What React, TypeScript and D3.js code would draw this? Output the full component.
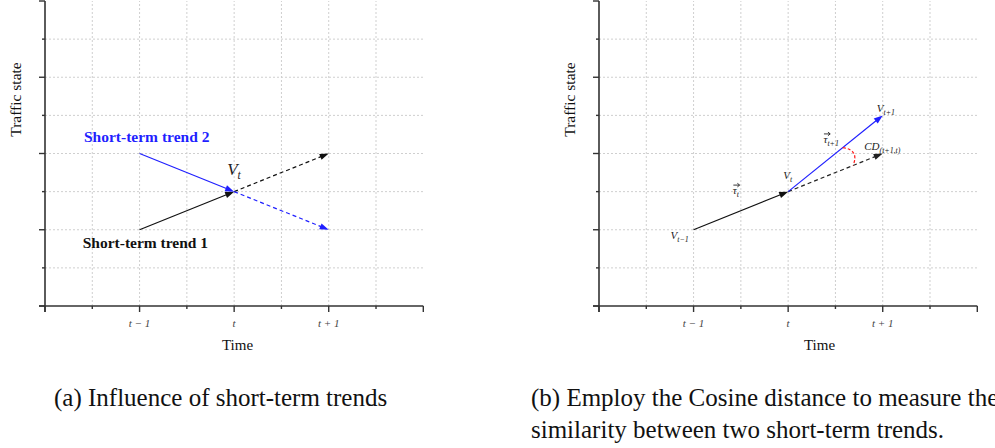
import React from "react";
import * as d3 from "d3";

const W = 995;
const H = 448;

// Axes: abstract time / traffic-state units
const xDomain: [number, number] = [0, 8];
const yDomain: [number, number] = [0, 8];
const majorTicks = [0, 2, 4, 6, 8];
const minorTicks = [1, 3, 5, 7];
const gridTicks = [1, 2, 3, 4, 5, 6, 7];
const timeTickValues = [2, 4, 6];
const timeTickLabels = ["t − 1", "t", "t + 1"];

// Panel (a): two short-term trends meeting at V_t
const trend1Solid: [number, number][] = [[2, 2], [4, 3]];
const trend1Dashed: [number, number][] = [[4, 3], [6, 4]];
const trend2Solid: [number, number][] = [[2, 4], [4, 3]];
const trend2Dashed: [number, number][] = [[4, 3], [6, 2]];

// Panel (b): cosine distance between consecutive trends
const pastTrend: [number, number][] = [[2, 2], [4, 3]];
const actualTrend: [number, number][] = [[4, 3], [6, 5]];
const expectedTrend: [number, number][] = [[4, 3], [6, 4]];

const captionA = "(a) Influence of short-term trends";
const captionB1 = "(b) Employ the Cosine distance to measure the";
const captionB2 = "similarity between two short-term trends.";

const SERIF = "'Liberation Serif', 'Times New Roman', serif";
const BLUE = "#1f1fff";
const AXIS = "#333";

type Sc = d3.ScaleLinear<number, number>;

function Arrow({ pts, x, y, color, dashed }: { pts: [number, number][]; x: Sc; y: Sc; color: string; dashed?: boolean }) {
  const [a, b] = pts;
  const x0 = x(a[0]), y0 = y(a[1]), x1 = x(b[0]), y1 = y(b[1]);
  const dx = x1 - x0, dy = y1 - y0;
  const len = Math.hypot(dx, dy);
  const ux = dx / len, uy = dy / len;
  const L = 9, hw = 3.2;
  const bx = x1 - ux * L, by = y1 - uy * L;
  const head = `${x1},${y1} ${bx - uy * hw},${by + ux * hw} ${bx + uy * hw},${by - ux * hw}`;
  return (
    <g>
      <line x1={x0} y1={y0} x2={bx + ux * 2} y2={by + uy * 2} stroke={color} strokeWidth={1.2} strokeDasharray={dashed ? "4,3" : undefined} />
      <polygon points={head} fill={color} />
    </g>
  );
}

function Frame({ x, y, titleX }: { x: Sc; y: Sc; titleX: number }) {
  const [xl, xr] = x.range();
  const [yb, yt] = y.range();
  return (
    <g>
      {gridTicks.map((t) => (
        <line key={"gx" + t} x1={x(t)} x2={x(t)} y1={yb} y2={yt} stroke="#cfcfcf" strokeWidth={1} strokeDasharray="2,2" />
      ))}
      {gridTicks.map((t) => (
        <line key={"gy" + t} x1={xl} x2={xr} y1={y(t)} y2={y(t)} stroke="#cfcfcf" strokeWidth={1} strokeDasharray="2,2" />
      ))}
      <line x1={xl - 6} x2={xr} y1={yb} y2={yb} stroke={AXIS} strokeWidth={1.6} />
      <line x1={xl} x2={xl} y1={yb + 6} y2={yt} stroke={AXIS} strokeWidth={1.6} />
      {majorTicks.map((t) => (
        <g key={"mj" + t}>
          <line x1={x(t)} x2={x(t)} y1={yb} y2={yb + 6} stroke={AXIS} strokeWidth={1.4} />
          <line x1={xl - 6} x2={xl} y1={y(t)} y2={y(t)} stroke={AXIS} strokeWidth={1.4} />
        </g>
      ))}
      {minorTicks.map((t) => (
        <g key={"mn" + t}>
          <line x1={x(t)} x2={x(t)} y1={yb} y2={yb + 3} stroke={AXIS} strokeWidth={1.4} />
          <line x1={xl - 3} x2={xl} y1={y(t)} y2={y(t)} stroke={AXIS} strokeWidth={1.4} />
        </g>
      ))}
      {timeTickValues.map((t, i) => (
        <text key={"tl" + t} x={x(t)} y={yb + 20.5} textAnchor="middle" fontFamily={SERIF} fontStyle="italic" fontSize={11} fill="#444">
          {timeTickLabels[i]}
        </text>
      ))}
      <text x={titleX} y={yb + 44} textAnchor="middle" fontFamily={SERIF} fontSize={15} fill="#111">Time</text>
      <text transform={`translate(${xl - 24.5},${(yb + yt) / 2 - 54}) rotate(-90)`} textAnchor="middle" fontFamily={SERIF} fontSize={15.5} fill="#111">
        Traffic state
      </text>
    </g>
  );
}

function MathLabel({ x, y, main, sub, size = 11, vec = false }: { x: number; y: number; main: string; sub: string; size?: number; vec?: boolean }) {
  const ay = y - size * 0.78;
  return (
    <g fontFamily={SERIF} fontStyle="italic" fill="#222">
      {vec && (
        <g stroke="#222" strokeWidth={0.9} fill="none">
          <line x1={x + 0.5} y1={ay} x2={x + 6.5} y2={ay} />
          <path d={`M${x + 4.5},${ay - 1.8} L${x + 6.8},${ay} L${x + 4.5},${ay + 1.8}`} />
        </g>
      )}
      <text x={x} y={y} fontSize={size}>
        {main}
        <tspan dy={size * 0.28} fontSize={size * 0.72}>{sub}</tspan>
      </text>
    </g>
  );
}

export default function App() {
  const yS = d3.scaleLinear().domain(yDomain).range([306, 1]);
  const xA = d3.scaleLinear().domain(xDomain).range([45, 423.3]);
  const xB = d3.scaleLinear().domain(xDomain).range([599, 977.3]);

  // red angle arc in panel (b)
  const vx = xB(actualTrend[0][0]), vy = yS(actualTrend[0][1]);
  const unit = (p: [number, number]) => {
    const dx = xB(p[0]) - vx, dy = yS(p[1]) - vy;
    const l = Math.hypot(dx, dy);
    return [dx / l, dy / l];
  };
  const d1 = unit(actualTrend[1]);
  const d2 = unit(expectedTrend[1]);
  const r = 70;
  const bis = [(d1[0] + d2[0]) / 2, (d1[1] + d2[1]) / 2];
  const bl = Math.hypot(bis[0], bis[1]);
  const bu = [bis[0] / bl, bis[1] / bl];
  const p0 = [vx + r * d1[0], vy + r * d1[1]];
  const p2 = [vx + r * d2[0], vy + r * d2[1]];
  const mid = [(p0[0] + p2[0]) / 2, (p0[1] + p2[1]) / 2];
  const bulge = [vx + 76 * bu[0], vy + 76 * bu[1]];
  const c = [2 * bulge[0] - mid[0], 2 * bulge[1] - mid[1]];
  const arcPath = `M${p0[0]},${p0[1]} Q${c[0]},${c[1]} ${p2[0]},${p2[1]}`;

  return (
    <svg width={W} height={H} style={{ position: "absolute", left: 0, top: 0, background: "#fff" }}>
      {/* Panel (a) */}
      <Frame x={xA} y={yS} titleX={237.5} />
      <Arrow pts={trend1Solid} x={xA} y={yS} color="#111" />
      <Arrow pts={trend1Dashed} x={xA} y={yS} color="#111" dashed />
      <Arrow pts={trend2Dashed} x={xA} y={yS} color={BLUE} dashed />
      <Arrow pts={trend2Solid} x={xA} y={yS} color={BLUE} />
      <text x={84} y={141.5} fontFamily={SERIF} fontWeight="bold" fontSize={15.5} fill={BLUE}>Short-term trend 2</text>
      <text x={82.7} y={248} fontFamily={SERIF} fontWeight="bold" fontSize={15.5} fill="#111">Short-term trend 1</text>
      <text x={xA(4) - 7} y={yS(3) - 16.5} fontFamily={SERIF} fontStyle="italic" fontSize={17} fill="#222">
        V<tspan dy={4} fontSize={11.5}>t</tspan>
      </text>

      {/* Panel (b) */}
      <Frame x={xB} y={yS} titleX={819.5} />
      <Arrow pts={pastTrend} x={xB} y={yS} color="#111" />
      <Arrow pts={expectedTrend} x={xB} y={yS} color="#222" dashed />
      <Arrow pts={actualTrend} x={xB} y={yS} color={BLUE} />
      <path d={arcPath} fill="none" stroke="#ff1a1a" strokeWidth={1.2} strokeDasharray="3,2" />
      <MathLabel x={xB(2) - 23} y={yS(2) + 9} main="V" sub="t−1" />
      <MathLabel x={xB(3) - 8} y={yS(2.5) - 17} main="τ" sub="t" vec />
      <MathLabel x={xB(4) - 5} y={yS(3) - 13} main="V" sub="t" />
      <MathLabel x={xB(5) - 12} y={yS(4) - 11} main="τ" sub="t+1" vec />
      <MathLabel x={xB(6) - 6} y={yS(5) - 3} main="V" sub="t+1" />
      <MathLabel x={xB(6) - 18.5} y={yS(4) - 4} main="CD" sub="(t+1,t)" />

      {/* Captions */}
      <text x={54} y={406} fontFamily={SERIF} fontSize={25} fill="#111">{captionA}</text>
      <text x={531} y={406} fontFamily={SERIF} fontSize={25} fill="#111">{captionB1}</text>
      <text x={531} y={438} fontFamily={SERIF} fontSize={25} fill="#111">{captionB2}</text>
    </svg>
  );
}
